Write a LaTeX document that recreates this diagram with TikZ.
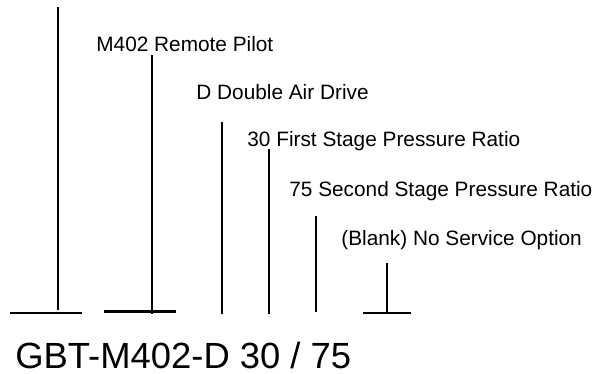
\documentclass[tikz,border=0pt]{standalone}
\usepackage{fontspec}
\setmainfont{Liberation Sans}
\begin{document}
\begin{tikzpicture}[x=0.5pt,y=-0.5pt,line cap=butt,
		tick/.style={line width=1pt},
		lbl/.style={anchor=base west,inner sep=0pt,font=\fontsize{10.4}{12}\selectfont},
		code/.style={anchor=base west,inner sep=0pt,font=\fontsize{18.2}{21}\selectfont}]
		\useasboundingbox (0,0) rectangle (605,374);
		\node[lbl] (pilot) at (96,52) {M402 Remote Pilot};
		\node[lbl] (drive) at (196,100) {D Double Air Drive};
		\node[lbl] (first) at (247,147) {30 First Stage Pressure Ratio};
		\node[lbl] (second) at (289,197) {75 Second Stage Pressure Ratio};
		\node[lbl] (service) at (341,245) {(Blank) No Service Option};
		\node[code] (model) at (15,368) {GBT-M402-D 30 / 75};
		\foreach \n/\x/\t/\b in {a/57.5/7/309.5, b/151.5/55/314, c/222/122/314, d/269/149/314, e/316/216/311.5, f/387/263/313}
		{
			\coordinate (\n top) at (\x,\t);
			\coordinate (\n bot) at (\x,\b);
			\draw[tick] (\n top)--(\n bot);
		}
		\foreach \n/\l/\r/\y/\w in {a/10/81.5/313.3/1pt, b/104/175.5/311/1.5pt, f/362.5/410.5/313.3/1pt}
		{
			\coordinate (\n left) at (\l,\y);
			\coordinate (\n right) at (\r,\y);
			\draw[line width=\w] (\n left)--(\n right);
		}
\end{tikzpicture}
\end{document}
